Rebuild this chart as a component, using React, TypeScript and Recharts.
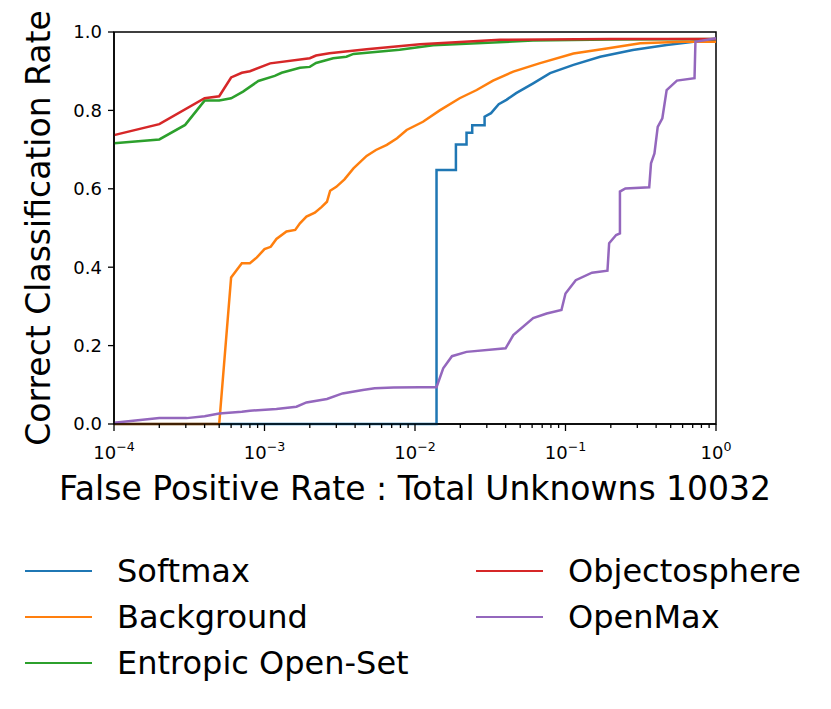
import React from "react";
import {
  LineChart, Line, XAxis, YAxis, Legend, ReferenceArea, Label,
} from "recharts";

const FONT = "DejaVu Sans, sans-serif";

// false positive rate (x) / correct classification rate (y)
const softmaxFpr = [1e-4, 0.0139, 0.0139, 0.0187, 0.0187, 0.022, 0.022, 0.024, 0.024, 0.029, 0.029, 0.032, 0.036, 0.0405, 0.047, 0.061, 0.079, 0.113, 0.17, 0.28, 0.47, 0.71, 1.0];
const softmaxCcr = [0, 0, 0.648, 0.648, 0.713, 0.713, 0.743, 0.743, 0.762, 0.762, 0.784, 0.793, 0.816, 0.827, 0.844, 0.869, 0.895, 0.916, 0.937, 0.954, 0.967, 0.975, 0.98];

const backgroundFpr = [1e-4, 5.0e-4, 6e-4, 7.07e-4, 8e-4, 8.9e-4, 1e-3, 1.1e-3, 1.2e-3, 1.4e-3, 1.6e-3, 1.72e-3, 1.9e-3, 2.16e-3, 2.4e-3, 2.6e-3, 2.73e-3, 3.0e-3, 3.4e-3, 3.9e-3, 4.77e-3, 5.5e-3, 6.5e-3, 7.6e-3, 8.8e-3, 1.13e-2, 1.46e-2, 1.98e-2, 2.57e-2, 3.3e-2, 4.5e-2, 6.7e-2, 0.113, 0.188, 0.314, 0.6, 1.0];
const backgroundCcr = [0, 0, 0.374, 0.41, 0.41, 0.425, 0.446, 0.452, 0.472, 0.491, 0.495, 0.512, 0.529, 0.539, 0.554, 0.567, 0.595, 0.605, 0.624, 0.652, 0.684, 0.699, 0.712, 0.729, 0.75, 0.771, 0.8, 0.831, 0.852, 0.876, 0.899, 0.92, 0.945, 0.958, 0.971, 0.975, 0.975];

const entropicFpr = [1e-4, 2e-4, 2.97e-4, 4e-4, 5e-4, 6e-4, 7.2e-4, 9.1e-4, 1.17e-3, 1.3e-3, 1.72e-3, 2e-3, 2.2e-3, 2.86e-3, 3.5e-3, 3.9e-3, 7.9e-3, 1.08e-2, 1.32e-2, 0.0608, 0.2, 1.0];
const entropicCcr = [0.716, 0.726, 0.763, 0.825, 0.825, 0.831, 0.848, 0.875, 0.888, 0.896, 0.909, 0.911, 0.921, 0.933, 0.937, 0.944, 0.955, 0.962, 0.966, 0.978, 0.981, 0.982];

const objectoFpr = [1e-4, 2e-4, 4e-4, 5e-4, 6e-4, 7.07e-4, 8e-4, 1.09e-3, 2e-3, 2.2e-3, 2.7e-3, 4.77e-3, 1.08e-2, 3.67e-2, 0.2, 1.0];
const objectoCcr = [0.737, 0.765, 0.831, 0.836, 0.884, 0.896, 0.9, 0.92, 0.933, 0.94, 0.946, 0.956, 0.969, 0.98, 0.982, 0.982];

const openmaxFpr = [1e-4, 2e-4, 3.04e-4, 4e-4, 5e-4, 7.07e-4, 8e-4, 1.2e-3, 1.63e-3, 1.9e-3, 2.6e-3, 3.3e-3, 4.5e-3, 5.4e-3, 7.2e-3, 1.08e-2, 1.39e-2, 1.54e-2, 1.76e-2, 2.2e-2, 4.0e-2, 4.5e-2, 6.1e-2, 7.5e-2, 9.4e-2, 0.1, 0.117, 0.15, 0.19, 0.195, 0.217, 0.23, 0.23, 0.25, 0.36, 0.37, 0.39, 0.41, 0.44, 0.47, 0.55, 0.72, 0.73, 1.0];
const openmaxCcr = [0.003, 0.015, 0.015, 0.02, 0.027, 0.031, 0.034, 0.038, 0.044, 0.055, 0.064, 0.078, 0.087, 0.091, 0.093, 0.094, 0.094, 0.142, 0.173, 0.184, 0.193, 0.227, 0.27, 0.282, 0.291, 0.333, 0.367, 0.386, 0.391, 0.461, 0.482, 0.486, 0.593, 0.601, 0.604, 0.665, 0.69, 0.758, 0.78, 0.852, 0.876, 0.882, 0.975, 0.984];

const majorTicks = [1e-4, 1e-3, 1e-2, 1e-1, 1];
const minorMultipliers = [2, 3, 4, 5, 6, 7, 8, 9];
const yTicks = [0, 0.2, 0.4, 0.6, 0.8, 1.0];

const xTicks = [
  ...majorTicks,
  ...majorTicks.slice(0, -1).flatMap((m) => minorMultipliers.map((k) => k * m)),
].sort((a, b) => a - b);

const zip = (xs: number[], ys: number[]) => xs.map((x, i) => ({ x, y: ys[i] }));

const series = [
  { name: "Softmax", color: "#1f77b4", data: zip(softmaxFpr, softmaxCcr) },
  { name: "Background", color: "#ff7f0e", data: zip(backgroundFpr, backgroundCcr) },
  { name: "Entropic Open-Set", color: "#2ca02c", data: zip(entropicFpr, entropicCcr) },
  { name: "Objectosphere", color: "#d62728", data: zip(objectoFpr, objectoCcr) },
  { name: "OpenMax", color: "#9467bd", data: zip(openmaxFpr, openmaxCcr) },
];
const seriesOrder = series.map((s) => s.name);

const XTick = ({ x, y, payload }: any) => {
  const v = payload.value;
  const lg = Math.log10(v);
  const exp = Math.round(lg);
  const major = Math.abs(lg - exp) < 1e-6;
  const axisY = y - 10; // tickSize 6 + tickMargin 4
  return (
    <g>
      <line x1={x} x2={x} y1={axisY} y2={axisY + (major ? 7 : 4)} stroke="#000" strokeWidth={1.3} />
      {major && (
        <text x={x} y={axisY + 35} textAnchor="middle" fontSize={18} fill="#000" fontFamily={FONT}>
          10
          <tspan dy={-8} fontSize={12.6}>{exp === 0 ? "0" : "\u2212" + -exp}</tspan>
        </text>
      )}
    </g>
  );
};

const LegendContent = ({ payload }: any) => {
  const items = [...(payload || [])].sort(
    (a: any, b: any) => seriesOrder.indexOf(a.value) - seriesOrder.indexOf(b.value)
  );
  return (
    <div
      style={{
        display: "grid",
        gridAutoFlow: "column",
        gridTemplateRows: "repeat(3, 46px)",
        gridTemplateColumns: "451px 380px",
        fontFamily: FONT,
        fontSize: 32,
        color: "#000",
      }}
    >
      {items.map((e: any) => (
        <div key={e.value} style={{ display: "flex", alignItems: "center", paddingLeft: 25 }}>
          <span style={{ display: "inline-block", width: 67, height: 0, borderTop: `2.5px solid ${e.color}`, marginRight: 25 }} />
          <span style={{ whiteSpace: "nowrap" }}>{e.value}</span>
        </div>
      ))}
    </div>
  );
};

export default function App() {
  return (
    <div style={{ margin: -8, width: 831, height: 709, background: "#fff" }}>
      <LineChart width={831} height={709} margin={{ top: 32, right: 115, left: 54, bottom: 245 }}>
        <XAxis
          type="number"
          dataKey="x"
          scale="log"
          domain={[1e-4, 1]}
          ticks={xTicks}
          interval={0}
          height={40}
          tickSize={6}
          tickMargin={4}
          tickLine={false}
          tick={<XTick />}
          axisLine={{ stroke: "#000", strokeWidth: 1.5 }}
        >
          <Label
            content={({ viewBox }: any) => (
              <text
                x={viewBox.x + viewBox.width / 2}
                y={viewBox.y + 76}
                textAnchor="middle"
                fontSize={33}
                fontFamily={FONT}
                fill="#000"
              >
                False Positive Rate : Total Unknowns 10032
              </text>
            )}
          />
        </XAxis>
        <YAxis
          type="number"
          dataKey="y"
          domain={[0, 1]}
          ticks={yTicks}
          width={60}
          tickSize={6}
          tickMargin={6}
          tickFormatter={(v: number) => v.toFixed(1)}
          tick={{ fill: "#000", fontSize: 18, fontFamily: FONT }}
          tickLine={{ stroke: "#000", strokeWidth: 1.3 }}
          axisLine={{ stroke: "#000", strokeWidth: 1.5 }}
        >
          <Label
            content={({ viewBox }: any) => {
              const cx = viewBox.x - 16;
              const cy = viewBox.y + viewBox.height / 2;
              return (
                <text
                  x={cx}
                  y={cy}
                  transform={`rotate(-90, ${cx}, ${cy})`}
                  textAnchor="middle"
                  dominantBaseline="central"
                  fontSize={33}
                  fontFamily={FONT}
                  fill="#000"
                >
                  Correct Classification Rate
                </text>
              );
            }}
          />
        </YAxis>
        <ReferenceArea x1={1e-4} x2={1} y1={0} y2={1} fill="none" stroke="#000" strokeWidth={1.5} />
        {series.map((s) => (
          <Line
            key={s.name}
            data={s.data}
            dataKey="y"
            name={s.name}
            type="linear"
            stroke={s.color}
            strokeWidth={2.5}
            dot={false}
            activeDot={false}
            isAnimationActive={false}
          />
        ))}
        <Legend
          layout="horizontal"
          verticalAlign="middle"
          align="center"
          content={<LegendContent />}
          wrapperStyle={{ top: 548, left: 0, width: 831 }}
        />
      </LineChart>
    </div>
  );
}
